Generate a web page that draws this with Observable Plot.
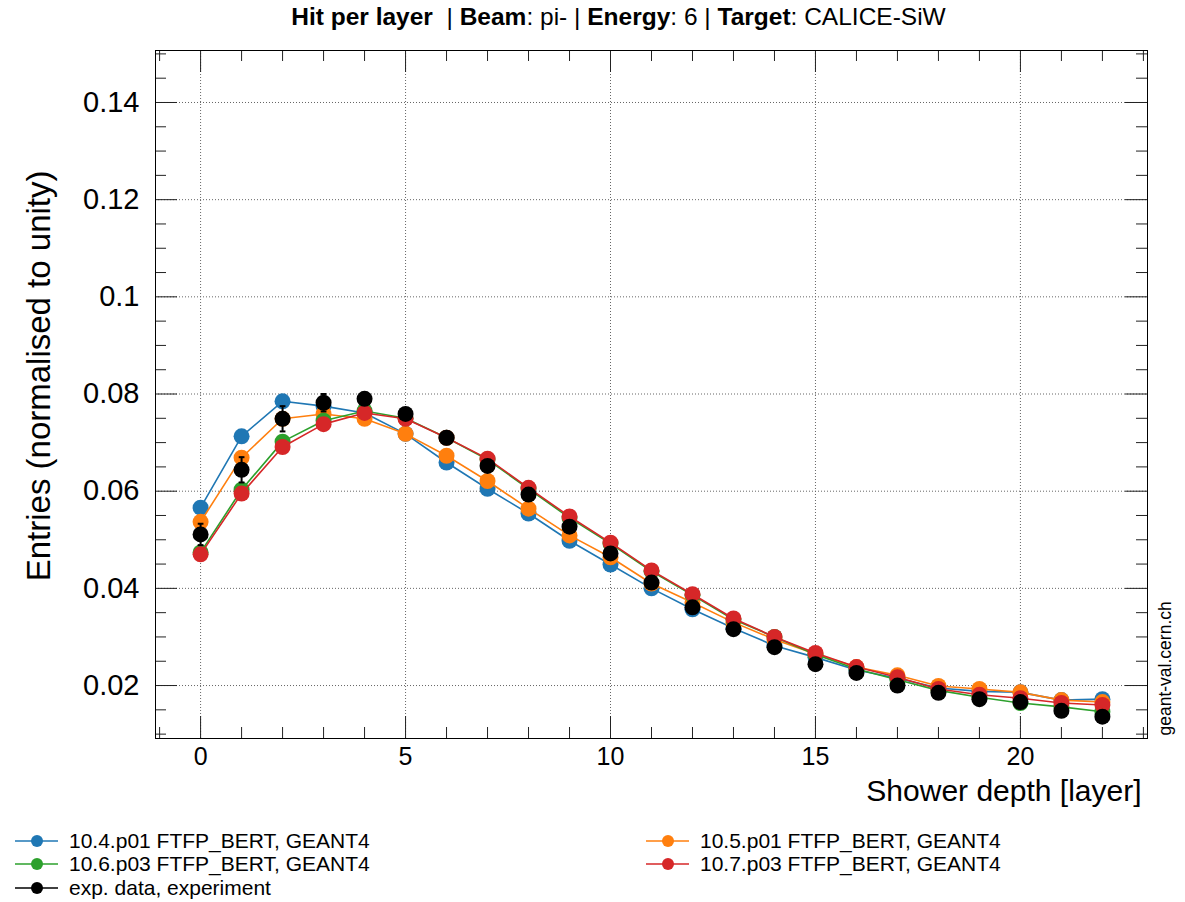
<!DOCTYPE html>
<html><head><meta charset="utf-8">
<script src="https://cdn.jsdelivr.net/npm/d3@7"></script>
<script src="https://cdn.jsdelivr.net/npm/@observablehq/plot@0.6"></script>
<style>
body{margin:0;background:#fff;font-family:"Liberation Sans",Arial,Helvetica,sans-serif;}
#wrap{position:relative;width:1185px;height:902px;overflow:hidden;}
#title{position:absolute;top:3px;left:26px;width:1185px;text-align:center;font-size:24.5px;color:#000;white-space:pre;}
#chart{position:absolute;top:0;left:0;}
#legend{position:absolute;top:0;left:0;width:1185px;height:902px;font-size:21px;}
.item{position:absolute;height:24px;display:flex;align-items:center;white-space:pre;}
.item svg{margin-right:10px;}
</style></head><body>
<div id="wrap">
<div id="chart"></div>
<div id="title"><b>Hit per layer</b>  | <b>Beam</b>: pi- | <b>Energy</b>: 6 | <b>Target</b>: CALICE-SiW</div>
<div id="legend"></div>
</div>
<script>
// ---- data ----
const layers = [0,1,2,3,4,5,6,7,8,9,10,11,12,13,14,15,16,17,18,19,20,21,22];
const seriesNames = ["10.4.p01 FTFP_BERT, GEANT4","10.5.p01 FTFP_BERT, GEANT4","10.6.p03 FTFP_BERT, GEANT4","10.7.p03 FTFP_BERT, GEANT4","exp. data, experiment"];
const seriesColors = ["#1f77b4","#ff7f0e","#2ca02c","#d62728","#000000"];
const v104 = [0.0566,0.0713,0.0785,0.0775,0.0761,0.0718,0.0659,0.0605,0.0554,0.0498,0.0449,0.0400,0.0357,0.0318,0.0282,0.0258,0.0232,0.0215,0.0195,0.0188,0.0186,0.0170,0.0172];
const v105 = [0.0537,0.0669,0.0749,0.0759,0.0749,0.0718,0.0673,0.0621,0.0564,0.0509,0.0464,0.0410,0.0371,0.0330,0.0295,0.0265,0.0238,0.0221,0.0199,0.0193,0.0186,0.0170,0.0166];
const v106 = [0.0474,0.0603,0.0702,0.0745,0.0765,0.0750,0.0710,0.0665,0.0605,0.0545,0.0492,0.0435,0.0386,0.0336,0.0300,0.0264,0.0234,0.0212,0.0190,0.0176,0.0164,0.0156,0.0146];
const v107 = [0.0470,0.0595,0.0691,0.0738,0.0761,0.0749,0.0710,0.0667,0.0607,0.0548,0.0494,0.0437,0.0388,0.0338,0.0300,0.0267,0.0238,0.0217,0.0193,0.0181,0.0174,0.0164,0.0160];
const vExp = [0.0511,0.0644,0.0749,0.0782,0.0790,0.0759,0.0710,0.0652,0.0593,0.0527,0.0472,0.0412,0.0361,0.0316,0.0279,0.0244,0.0226,0.0200,0.0185,0.0172,0.0166,0.0148,0.0136];
const vExpErr = [0.0022,0.0026,0.0026,0.0018,0.0010,0.0008,0.0007,0.0006,0.0006,0.0005,0.0005,0.0005,0.0004,0.0004,0.0004,0.0003,0.0003,0.0003,0.0003,0.0003,0.0003,0.0003,0.0003];
const yMajor = [0.02,0.04,0.06,0.08,0.10,0.12,0.14];
const yMajorLabels = ["0.02","0.04","0.06","0.08","0.1","0.12","0.14"];
const yMinor = [0.01,0.015,0.025,0.03,0.035,0.045,0.05,0.055,0.065,0.07,0.075,0.085,0.09,0.095,0.105,0.11,0.115,0.125,0.13,0.135,0.145,0.15];
const xMajor = [0,5,10,15,20];
const xMinor = [-1,1,2,3,4,6,7,8,9,11,12,13,14,16,17,18,19,21,22,23];
const yTitle = "Entries (normalised to unity)";
const xTitle = "Shower depth [layer]";
const watermark = "geant-val.cern.ch";

// ---- layout ----
const W = 1185, H = 830, mL = 155, mR = 38, mT = 50, mB = 92;
const fw = W - mL - mR, fh = H - mT - mB;

const allVals = [v104, v105, v106, v107];
const simRows = [];
allVals.forEach((vals, i) => layers.forEach((l, j) => simRows.push({layer: l, value: vals[j], series: seriesNames[i]})));
const expRows = layers.map((l, j) => ({layer: l, value: vExp[j], err: vExpErr[j], series: seriesNames[4]}));

const seriesMarks = [];
allVals.forEach((vals, i) => {
  const rows = simRows.filter(d => d.series === seriesNames[i]);
  seriesMarks.push(Plot.line(rows, {x: "layer", y: "value", stroke: seriesColors[i], strokeWidth: 1.6}));
  seriesMarks.push(Plot.dot(rows, {x: "layer", y: "value", fill: seriesColors[i], r: 8}));
});

const labelMap = new Map(yMajor.map((v, i) => [v, yMajorLabels[i]]));

const chart = Plot.plot({
  width: W, height: H,
  marginLeft: mL, marginRight: mR, marginTop: mT, marginBottom: mB,
  style: {fontFamily: '"Liberation Sans", Arial, Helvetica, sans-serif', color: "#000", background: "#fff"},
  x: {domain: [-1.1, 23.1], axis: null},
  y: {domain: [0.0091, 0.1507], axis: null},
  marks: [
    Plot.gridY(yMajor, {stroke: "#666", strokeOpacity: 1, strokeDasharray: "1,2", strokeWidth: 1}),
    Plot.gridX(xMajor, {stroke: "#666", strokeOpacity: 1, strokeDasharray: "1,2", strokeWidth: 1}),
    // inward ticks: left / right
    Plot.tickY(yMajor, {y: d => d, insetRight: fw - 22, stroke: "#222"}),
    Plot.tickY(yMajor, {y: d => d, insetLeft: fw - 22, stroke: "#222"}),
    Plot.tickY(yMinor, {y: d => d, insetRight: fw - 11, stroke: "#222"}),
    Plot.tickY(yMinor, {y: d => d, insetLeft: fw - 11, stroke: "#222"}),
    // inward ticks: bottom / top
    Plot.tickX(xMajor, {x: d => d, insetTop: fh - 22, stroke: "#222"}),
    Plot.tickX(xMajor, {x: d => d, insetBottom: fh - 22, stroke: "#222"}),
    Plot.tickX(xMinor, {x: d => d, insetTop: fh - 11, stroke: "#222"}),
    Plot.tickX(xMinor, {x: d => d, insetBottom: fh - 11, stroke: "#222"}),
    Plot.frame({stroke: "#000", strokeWidth: 1}),
    Plot.axisY(yMajor, {anchor: "left", tickSize: 0, tickPadding: 16, fontSize: 29, label: null, tickFormat: d => labelMap.get(d)}),
    Plot.axisX(xMajor, {anchor: "bottom", tickSize: 0, tickPadding: 9, fontSize: 25, label: null}),
    ...seriesMarks,
    Plot.ruleX(expRows, {x: "layer", y1: d => d.value - d.err, y2: d => d.value + d.err, stroke: "#000", strokeWidth: 2}),
    Plot.link(expRows, {x1: d => d.layer - 0.07, x2: d => d.layer + 0.07, y1: d => d.value + d.err, y2: d => d.value + d.err, stroke: "#000", strokeWidth: 2}),
    Plot.link(expRows, {x1: d => d.layer - 0.07, x2: d => d.layer + 0.07, y1: d => d.value - d.err, y2: d => d.value - d.err, stroke: "#000", strokeWidth: 2}),
    Plot.dot(expRows, {x: "layer", y: "value", fill: "#000", r: 8}),
    Plot.text([yTitle], {frameAnchor: "top-left", rotate: -90, textAnchor: "end", lineAnchor: "middle", dx: -116, dy: 120, fontSize: 33, fill: "#000"}),
    Plot.text([xTitle], {frameAnchor: "bottom-right", textAnchor: "end", lineAnchor: "middle", dx: -6, dy: 53, fontSize: 30, fill: "#000"}),
    Plot.text([watermark], {frameAnchor: "bottom-right", rotate: -90, textAnchor: "start", lineAnchor: "middle", dx: 18, dy: -3, fontSize: 17.5, fill: "#000"})
  ]
});
document.getElementById("chart").appendChild(chart);

// ---- legend ----
const legendPos = [[13, 841], [644, 841], [13, 864], [644, 864], [13, 888]];
const legend = document.getElementById("legend");
seriesNames.forEach((name, i) => {
  const [lx, ly] = legendPos[i];
  const div = document.createElement("div");
  div.className = "item";
  div.style.left = lx + "px";
  div.style.top = (ly - 12) + "px";
  div.innerHTML = `<svg width="46" height="24"><line x1="2" x2="45" y1="12" y2="12" stroke="${seriesColors[i]}" stroke-width="1.6"/><circle cx="24" cy="12" r="6" fill="${seriesColors[i]}"/></svg><span>${name}</span>`;
  legend.appendChild(div);
});
</script>
</body></html>
